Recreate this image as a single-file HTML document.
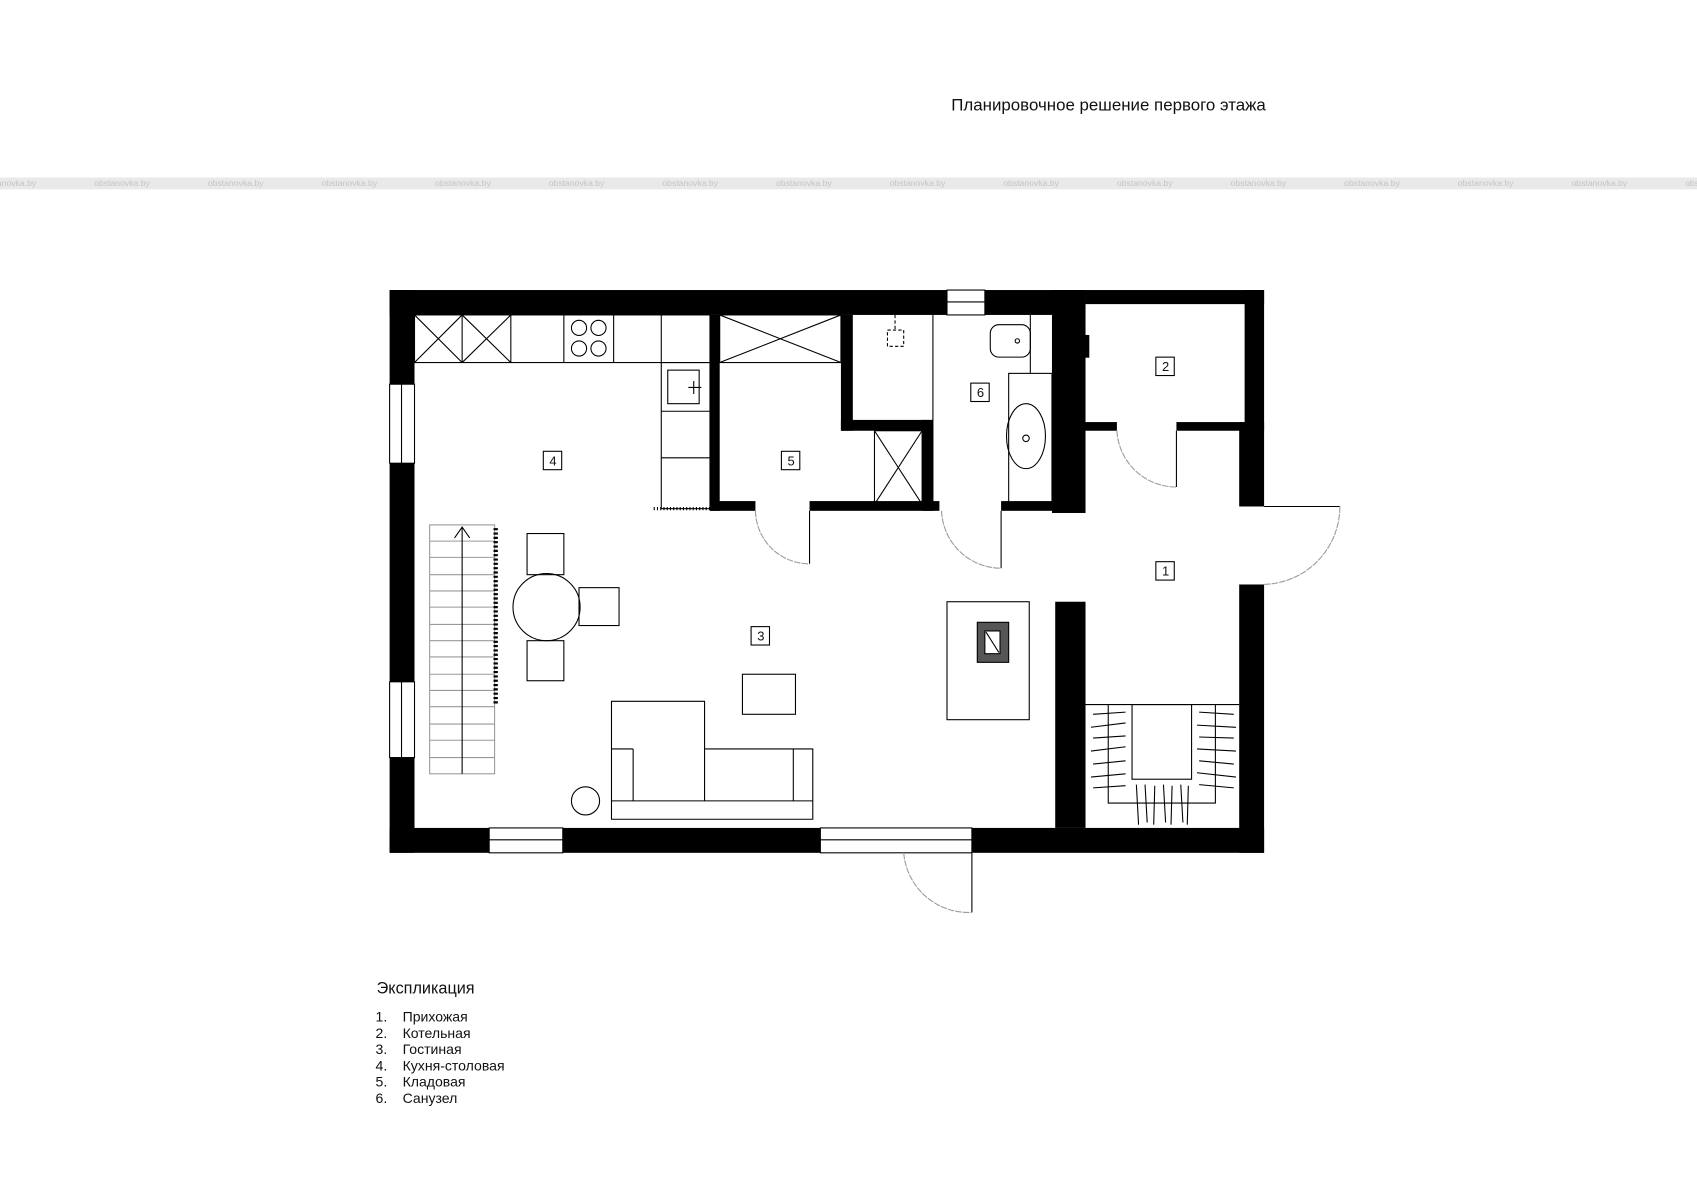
<!DOCTYPE html>
<html><head><meta charset="utf-8"><style>
html,body{margin:0;padding:0;background:#fff;}
svg{display:block;}
text{font-family:"Liberation Sans",sans-serif;fill:#111;}
text.wm{fill:#c4c4c4;}
</style></head><body>
<svg width="1697" height="1200" viewBox="0 0 1568 1108.8" preserveAspectRatio="none" xmlns="http://www.w3.org/2000/svg">
<text x="879" y="102" font-size="15.6">Планировочное решение первого этажа</text>
<rect x="0" y="164" width="1568" height="11" fill="#e9e9e9"/>
<g font-size="8">
<text class="wm" x="-18" y="172">obstanovka.by</text><text class="wm" x="87" y="172">obstanovka.by</text><text class="wm" x="192" y="172">obstanovka.by</text><text class="wm" x="297" y="172">obstanovka.by</text><text class="wm" x="402" y="172">obstanovka.by</text><text class="wm" x="507" y="172">obstanovka.by</text><text class="wm" x="612" y="172">obstanovka.by</text><text class="wm" x="717" y="172">obstanovka.by</text><text class="wm" x="822" y="172">obstanovka.by</text><text class="wm" x="927" y="172">obstanovka.by</text><text class="wm" x="1032" y="172">obstanovka.by</text><text class="wm" x="1137" y="172">obstanovka.by</text><text class="wm" x="1242" y="172">obstanovka.by</text><text class="wm" x="1347" y="172">obstanovka.by</text><text class="wm" x="1452" y="172">obstanovka.by</text><text class="wm" x="1557" y="172">obstanovka.by</text>
</g>
<g fill="#000">
<rect x="360" y="268" width="643" height="23"/>
<rect x="1003" y="268" width="165" height="13"/>
<rect x="360" y="268" width="23" height="520"/>
<rect x="360" y="765" width="808" height="23"/>
<rect x="1150" y="268" width="18" height="130"/>
<rect x="1145" y="390" width="23" height="78"/>
<rect x="1145" y="540" width="23" height="248"/>
<rect x="656" y="291" width="9" height="181"/>
<rect x="656" y="463" width="42" height="9"/>
<rect x="748" y="463" width="120" height="9"/>
<rect x="777" y="291" width="11" height="107"/>
<rect x="777" y="388" width="85" height="10"/>
<rect x="852" y="388" width="10" height="84"/>
<rect x="925" y="463" width="50" height="9"/>
<rect x="972" y="268" width="31" height="206"/>
<rect x="1003" y="390" width="29" height="8"/>
<rect x="1087" y="390" width="63" height="8"/>
<rect x="975" y="556" width="28" height="209"/>
</g>
<g fill="#fff" stroke="#000" stroke-width="1">
<rect x="360" y="355" width="23" height="73"/><line x1="371" y1="355" x2="371" y2="428"/>
<rect x="360" y="630" width="23" height="70"/><line x1="371" y1="630" x2="371" y2="700"/>
<rect x="452" y="765" width="68" height="23"/><line x1="452" y1="776" x2="520" y2="776"/>
<rect x="758" y="765" width="140" height="23"/><line x1="758" y1="776" x2="898" y2="776"/>
<rect x="875" y="268" width="35" height="23"/><line x1="875" y1="279" x2="910" y2="279"/>
<rect x="1145" y="468" width="23" height="72" stroke="none"/>
</g>
<g fill="none" stroke="#000" stroke-width="1">
<rect x="383" y="291" width="273" height="44"/>
<line x1="427" y1="291" x2="427" y2="335"/><line x1="472" y1="291" x2="472" y2="335"/><line x1="521" y1="291" x2="521" y2="335"/><line x1="567" y1="291" x2="567" y2="335"/><line x1="611" y1="291" x2="611" y2="335"/>
<path d="M383 291L427 335M427 291L383 335M427 291L472 335M472 291L427 335"/>
<circle cx="535" cy="303" r="7"/><circle cx="553" cy="303" r="7"/><circle cx="535" cy="322" r="7"/><circle cx="553" cy="322" r="7"/>
<rect x="611" y="335" width="45" height="135"/>
<line x1="611" y1="380" x2="656" y2="380"/><line x1="611" y1="423" x2="656" y2="423"/>
<rect x="617" y="342" width="29" height="31"/><path d="M641 352V364M636 358H648"/>
<line x1="604" y1="470" x2="656" y2="470" stroke-dasharray="1 2" stroke-width="3"/>
<rect x="665" y="291" width="112" height="44"/><path d="M665 291L777 335M777 291L665 335"/>
<rect x="808" y="398" width="44" height="68"/><path d="M808 398L852 466M852 398L808 466"/>
<line x1="862" y1="291" x2="862" y2="472"/>
<rect x="820" y="305" width="15" height="15" stroke-dasharray="3 2"/><line x1="827" y1="291" x2="827" y2="305" stroke-dasharray="3 2"/>
<rect x="915" y="300" width="37" height="30" rx="8"/><circle cx="940" cy="315" r="2"/>
<line x1="952" y1="291" x2="952" y2="345"/>
<rect x="932" y="345" width="40" height="121"/>
<ellipse cx="948" cy="403" rx="18" ry="30"/><circle cx="948" cy="405" r="3"/>
<rect x="1003" y="310" width="3" height="20" fill="#000"/>
<line x1="748" y1="472" x2="748" y2="521"/><path d="M698 472A50 50 0 0 0 748 521" stroke="#999" stroke-dasharray="6 1"/>
<line x1="925" y1="472" x2="925" y2="525"/><path d="M870 472A55 55 0 0 0 925 525" stroke="#999" stroke-dasharray="6 1"/>
<line x1="1087" y1="398" x2="1087" y2="450"/><path d="M1032 398A55 55 0 0 0 1087 450" stroke="#999" stroke-dasharray="6 1"/>
<line x1="1168" y1="468" x2="1238" y2="468"/><path d="M1238 468A72 72 0 0 1 1168 540" stroke="#999" stroke-dasharray="6 1"/>
<line x1="898" y1="788" x2="898" y2="843"/><path d="M835 788A60 60 0 0 0 898 843" stroke="#999" stroke-dasharray="6 1"/>
<g stroke="#999">
<rect x="397" y="485" width="60" height="230"/>
<path d="M397 500H457M397 515H457M397 531H457M397 546H457M397 561H457M397 577H457M397 592H457M397 607H457M397 623H457M397 638H457M397 653H457M397 669H457M397 684H457M397 700H457"/>
</g>
<path d="M427 715V487M420 497L427 487L434 497"/>
<line x1="458" y1="488" x2="458" y2="652" stroke-dasharray="2 2" stroke-width="4"/>
<circle cx="505" cy="561" r="31"/>
<rect x="487" y="493" width="34" height="38"/><rect x="535" y="543" width="37" height="35"/><rect x="487" y="592" width="34" height="37"/>
<rect x="686" y="623" width="49" height="37"/>
<path d="M565 648H651V692H751V757H565Z"/>
<line x1="565" y1="740" x2="751" y2="740"/><line x1="585" y1="692" x2="585" y2="740"/><line x1="565" y1="692" x2="585" y2="692"/><line x1="733" y1="692" x2="733" y2="740"/><line x1="651" y1="692" x2="651" y2="740"/>
<circle cx="541" cy="740" r="13"/>
<rect x="875" y="556" width="76" height="109"/>
<rect x="903" y="575" width="29" height="37" fill="#555"/><rect x="910" y="583" width="14" height="21" fill="#fff"/><path d="M911 584L923 603"/>
<line x1="1003" y1="651" x2="1145" y2="651"/>
<rect x="1046" y="651" width="55" height="69"/>
<path d="M1024 651V742H1123V651"/>
<path d="M1010 660L1040 658M1008 672L1040 668M1010 682L1040 680M1008 694L1040 690M1010 706L1040 703M1008 718L1040 715M1010 728L1040 726M1108 658L1140 660M1106 670L1142 672M1108 681L1140 682M1106 692L1142 694M1108 703L1140 706M1106 714L1142 718M1108 725L1140 728M1050 725L1052 762M1058 725L1060 760M1067 726L1066 762M1075 725L1077 760M1083 726L1082 762M1091 725L1093 760M1098 726L1097 762"/>
</g>
<g font-size="12" text-anchor="middle">
<rect x="502" y="417" width="17" height="17" fill="#fff" stroke="#000"/><text x="511" y="430">4</text>
<rect x="722" y="417" width="17" height="17" fill="#fff" stroke="#000"/><text x="731" y="430">5</text>
<rect x="897" y="354" width="17" height="17" fill="#fff" stroke="#000"/><text x="906" y="367">6</text>
<rect x="1068" y="330" width="17" height="17" fill="#fff" stroke="#000"/><text x="1077" y="343">2</text>
<rect x="1068" y="519" width="17" height="17" fill="#fff" stroke="#000"/><text x="1077" y="532">1</text>
<rect x="694" y="579" width="17" height="17" fill="#fff" stroke="#000"/><text x="703" y="592">3</text>
</g>
<text x="348" y="918" font-size="15">Экспликация</text>
<g font-size="13">
<text x="347" y="944">1.</text><text x="372" y="944">Прихожая</text>
<text x="347" y="959">2.</text><text x="372" y="959">Котельная</text>
<text x="347" y="974">3.</text><text x="372" y="974">Гостиная</text>
<text x="347" y="989">4.</text><text x="372" y="989">Кухня-столовая</text>
<text x="347" y="1004">5.</text><text x="372" y="1004">Кладовая</text>
<text x="347" y="1019">6.</text><text x="372" y="1019">Санузел</text>
</g>
</svg>
</body></html>
